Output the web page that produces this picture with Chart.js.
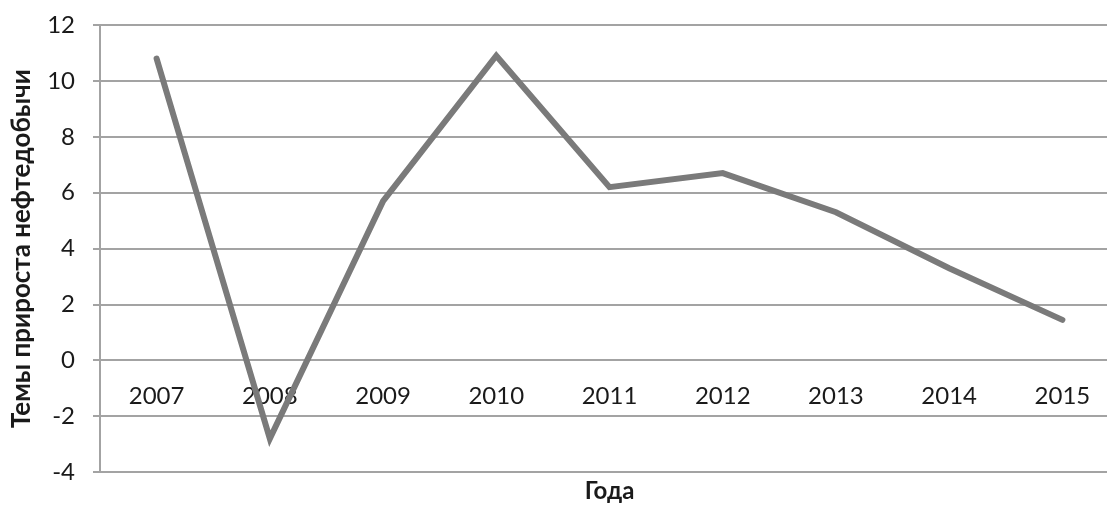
<!DOCTYPE html>
<html>
<head>
<meta charset="utf-8">
<script src="https://cdn.jsdelivr.net/npm/chart.js@4"></script>
<style>
  html, body { margin: 0; padding: 0; background: #fff; overflow: hidden; }
</style>
</head>
<body>
<canvas id="myChart" width="1125" height="506"></canvas>
<script>
// Данные графика
const years = ['2007', '2008', '2009', '2010', '2011', '2012', '2013', '2014', '2015'];
const growthRates = [10.8, -2.8, 5.7, 10.9, 6.2, 6.7, 5.3, 3.3, 1.45];
const yTicks = [-4, -2, 0, 2, 4, 6, 8, 10, 12];

const gridColor = '#a3a3a3';
const textColor = '#1a1a1a';
const fontFamily = 'Lato, "Open Sans", sans-serif';

const ctx = document.getElementById('myChart').getContext('2d');
new Chart(ctx, {
    type: 'line',
    data: {
        labels: years,
        datasets: [{
            label: 'Темы прироста нефтедобычи',
            data: growthRates,
            borderColor: '#7a7a7a',
            borderWidth: 6,
            pointRadius: 0,
            tension: 0,
            borderJoinStyle: 'miter',
            borderCapStyle: 'round'
        }]
    },
    options: {
        responsive: false,
        animation: false,
        layout: {
            padding: { left: 0, right: 6, top: 25, bottom: 0 }
        },
        plugins: {
            legend: { display: false },
            tooltip: { enabled: false }
        },
        scales: {
            // подписи лет рисуются у линии нуля
            x: {
                type: 'category',
                position: { y: 0 },
                offset: true,
                grid: { display: false, drawTicks: false },
                border: { display: false },
                ticks: {
                    color: textColor,
                    font: { family: fontFamily, size: 24 },
                    padding: 21,
                    maxRotation: 0
                }
            },
            // отдельная ось только для подписи "Года"
            x2: {
                type: 'category',
                position: 'bottom',
                offset: true,
                grid: { display: false, drawTicks: false },
                border: { display: false },
                ticks: { display: false },
                title: {
                    display: true,
                    text: 'Года',
                    color: textColor,
                    font: { family: fontFamily, size: 24, weight: 'bold' },
                    padding: { top: 5, bottom: 0 }
                }
            },
            y: {
                min: -4,
                max: 12,
                afterBuildTicks: function(scale) {
                    scale.ticks = yTicks.map(v => ({ value: v }));
                },
                afterFit: function(scale) {
                    scale.width = 100;
                    scale.paddingTop = 0;
                    scale.paddingBottom = 0;
                },
                grid: {
                    color: gridColor,
                    lineWidth: 2,
                    tickLength: 7
                },
                border: { color: gridColor, width: 2 },
                ticks: {
                    color: textColor,
                    font: { family: fontFamily, size: 24 },
                    padding: 18
                },
                title: {
                    display: true,
                    text: 'Темы прироста нефтедобычи',
                    color: textColor,
                    font: { family: fontFamily, size: 26, weight: 'bold' },
                    padding: { top: 6, bottom: 0 }
                }
            }
        }
    }
});
</script>
</body>
</html>
